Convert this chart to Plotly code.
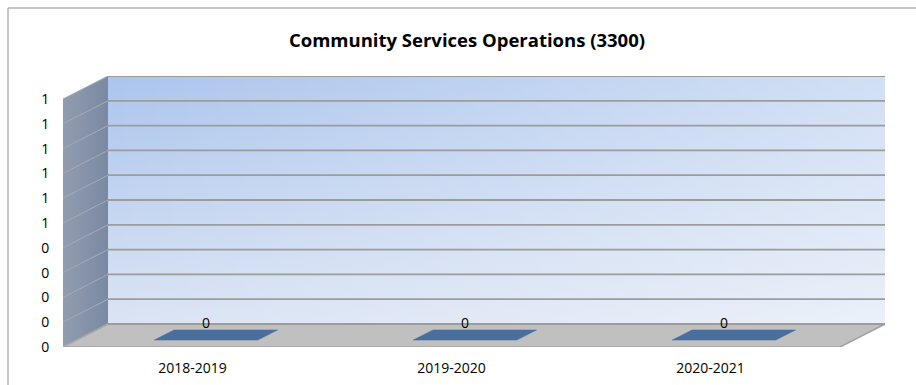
import plotly.graph_objects as go

# ---------------- data ----------------
categories = ["2018-2019", "2019-2020", "2020-2021"]
values = [0, 0, 0]
data_labels = ["0", "0", "0"]
y_tick_values = [0.0, 0.1, 0.2, 0.3, 0.4, 0.5, 0.6, 0.7, 0.8, 0.9, 1.0]
y_tick_labels = ["0", "0", "0", "0", "0", "1", "1", "1", "1", "1", "1"]
title_text = "Community Services Operations (3300)"

# ---------------- layout geometry (pixels) ----------------
W, H = 916, 385
L, R, T, B = 63, 31, 76, 38
plot_w = W - L - R
plot_h = H - T - B
depth_px_x, depth_px_y = 45, 23
n = len(categories)
ymax = max(y_tick_values)
cat_px = (plot_w - depth_px_x) / n
val_px = (plot_h - depth_px_y) / ymax
dxk = depth_px_x / cat_px          # depth offset in category units
dyk = depth_px_y / val_px          # depth offset in value units
x0, x1 = -0.5, n - 0.5
bar_half = 0.2
d_front, d_back = 0.3, 0.74

FONT = "Open Sans"
fig = go.Figure()

# back wall
bw_x = [x0 + dxk, x1 + dxk, x1 + dxk, x0 + dxk, x0 + dxk]
bw_y = [dyk, dyk, ymax + dyk, ymax + dyk, dyk]
fig.add_trace(go.Scatter(
    x=bw_x, y=bw_y, mode="lines", fill="toself", line=dict(width=0),
    fillgradient=dict(type="vertical", start=dyk, stop=ymax + dyk,
                      colorscale=[[0, "#dbe4f4"], [1, "#abc5ec"]]),
    hoverinfo="skip", showlegend=False))
fig.add_trace(go.Scatter(
    x=bw_x, y=bw_y, mode="lines", fill="toself", line=dict(width=0),
    fillgradient=dict(type="horizontal", start=x0 + dxk, stop=x1 + dxk,
                      colorscale=[[0, "rgba(255,255,255,0)"], [1, "rgba(255,255,255,0.45)"]]),
    hoverinfo="skip", showlegend=False))

# left side wall
fig.add_trace(go.Scatter(
    x=[x0, x0 + dxk, x0 + dxk, x0, x0],
    y=[0, dyk, ymax + dyk, ymax, 0],
    mode="lines", fill="toself", line=dict(width=0),
    fillgradient=dict(type="horizontal", start=x0, stop=x0 + dxk,
                      colorscale=[[0, "#919cb0"], [0.35, "#8996ab"], [1, "#7a89a2"]]),
    hoverinfo="skip", showlegend=False))

# floor
fig.add_trace(go.Scatter(
    x=[x0, x1, x1 + dxk, x0 + dxk, x0],
    y=[0, 0, dyk, dyk, 0],
    mode="lines", fill="toself", fillcolor="#c0c0c0",
    line=dict(width=1.6, color="#a3a3a3"),
    hoverinfo="skip", showlegend=False))

# gridlines (back wall and side wall)
gx, gy, sx, sy = [], [], [], []
for v in y_tick_values:
    gx += [x0 + dxk, x1 + dxk, None]
    gy += [v + dyk, v + dyk, None]
    sx += [x0, x0 + dxk, None]
    sy += [v, v + dyk, None]
fig.add_trace(go.Scatter(x=sx, y=sy, mode="lines", line=dict(width=1, color="#a4abb8"),
                         hoverinfo="skip", showlegend=False))
fig.add_trace(go.Scatter(x=gx, y=gy, mode="lines", line=dict(width=1.8, color="#9c9c9c"),
                         hoverinfo="skip", showlegend=False))

# bars (3D, flat at zero)
for i, v in enumerate(values):
    fx = [i - bar_half + d_front * dxk, i + bar_half + d_front * dxk]
    # front face
    fig.add_trace(go.Scatter(
        x=[fx[0], fx[1], fx[1], fx[0], fx[0]],
        y=[d_front * dyk, d_front * dyk, v + d_front * dyk, v + d_front * dyk, d_front * dyk],
        mode="lines", fill="toself", fillcolor="#4a6f9d", line=dict(width=0),
        hoverinfo="skip", showlegend=False))
    # top face
    fig.add_trace(go.Scatter(
        x=[fx[0], fx[1], fx[1] + (d_back - d_front) * dxk, fx[0] + (d_back - d_front) * dxk, fx[0]],
        y=[v + d_front * dyk, v + d_front * dyk, v + d_back * dyk, v + d_back * dyk, v + d_front * dyk],
        mode="lines", fill="toself", fillcolor="#4a6f9d", line=dict(width=0.5, color="#4a6f9d"),
        hoverinfo="skip", showlegend=False))
    fig.add_annotation(x=i + d_front * dxk, y=v + d_back * dyk, text=data_labels[i],
                       showarrow=False, yanchor="bottom", yshift=-4,
                       font=dict(family=FONT, size=14, color="#000000"))

# outer chart border (top and left visible)
def px_x(p):
    return (p - L) / plot_w
def px_y(p):
    return (H - B - p) / plot_h
fig.add_shape(type="line", xref="paper", yref="paper", x0=px_x(8), x1=px_x(W + 5),
              y0=px_y(8), y1=px_y(8), line=dict(color="#b3b3b3", width=1.5))
fig.add_shape(type="line", xref="paper", yref="paper", x0=px_x(8), x1=px_x(8),
              y0=px_y(8), y1=px_y(H + 5), line=dict(color="#b3b3b3", width=1.5))

fig.update_layout(
    width=W, height=H,
    margin=dict(l=L, r=R, t=T, b=B, autoexpand=False),
    paper_bgcolor="white", plot_bgcolor="white",
    title=dict(text="<b>" + title_text + "</b>", x=467 / W, xref="container", xanchor="center",
               y=1 - 41 / H, yref="container", yanchor="middle", automargin=False,
               font=dict(family=FONT, size=18.5, color="#000000")),
    xaxis=dict(range=[x0, x1 + dxk], tickvals=list(range(n)), ticktext=categories,
               showgrid=False, zeroline=False, showline=False, automargin=False,
               ticks="outside", ticklen=8, tickcolor="rgba(0,0,0,0)",
               tickfont=dict(family=FONT, size=14, color="#000000"), fixedrange=True),
    yaxis=dict(range=[0, ymax + dyk], tickvals=y_tick_values, ticktext=y_tick_labels,
               showgrid=False, zeroline=False, showline=False, automargin=False,
               ticks="outside", ticklen=10, tickcolor="rgba(0,0,0,0)",
               tickfont=dict(family=FONT, size=14, color="#000000"), fixedrange=True),
    showlegend=False,
)

fig.write_html("out.html")
